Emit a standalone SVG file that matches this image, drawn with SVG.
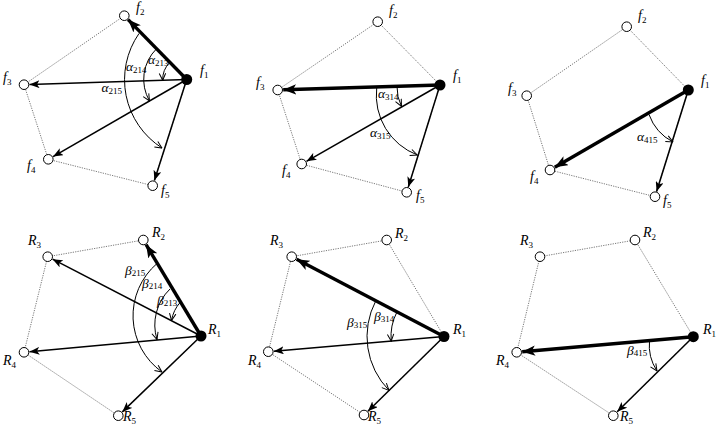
<svg xmlns="http://www.w3.org/2000/svg" width="717" height="428" viewBox="0 0 717 428">
<defs>
<style>
.dot{stroke:#555;stroke-width:0.8;stroke-dasharray:1.2 1.2;fill:none}
.ed{stroke:#000;stroke-width:1.5;fill:none;marker-end:url(#ah)}
.edT{stroke:#000;stroke-width:3.4;fill:none;marker-end:url(#ahT)}
.arc{stroke:#000;stroke-width:1;fill:none;marker-end:url(#av)}
.n{fill:#fff;stroke:#000;stroke-width:1}
.c{fill:#000}
text{font-family:"Liberation Serif","Times New Roman",serif;fill:#000}
.lab{font-size:14px;font-style:italic}
.gl{font-size:13.5px;font-style:italic}
.sub{font-size:9px;font-style:normal}
</style>
<marker id="ah" markerUnits="userSpaceOnUse" viewBox="0 0 10 8" markerWidth="10" markerHeight="8" refX="10" refY="4" orient="auto"><path d="M0,0 L10,4 L0,8 L2.5,4 z" fill="#000"/></marker>
<marker id="ahT" markerUnits="userSpaceOnUse" viewBox="0 0 10 8" markerWidth="13" markerHeight="10.4" refX="10" refY="4" orient="auto"><path d="M0,0 L10,4 L0,8 L2.5,4 z" fill="#000"/></marker>
<marker id="av" markerUnits="userSpaceOnUse" viewBox="0 0 8 8" markerWidth="8" markerHeight="8" refX="7.5" refY="4" orient="auto"><path d="M0.5,0.8 L7.5,4 L0.5,7.2" fill="none" stroke="#000" stroke-width="1"/></marker>
</defs>
<rect width="717" height="428" fill="#fff"/>

<g id="connectors">
<!-- panel 1 -->
<path class="dot" d="M186.7,79.5 L124.3,15.7 L24,84.7 L48.3,159.3 L152.7,185.7 Z"/>
<line class="edT" x1="186.7" y1="79.5" x2="128.1" y2="19.6"/>
<line class="ed" x1="186.7" y1="79.5" x2="29.5" y2="84.5"/>
<line class="ed" x1="186.7" y1="79.5" x2="53.1" y2="156.6"/>
<line class="ed" x1="186.7" y1="79.5" x2="154.4" y2="180.5"/>
<path class="arc" d="M169.9,62.3 A24,24 0 0 0 162.7,80.3"/>
<path class="arc" d="M156.6,48.7 A43,43 0 0 0 149.5,101"/>
<path class="arc" d="M139,33.5 A81,81 0 0 0 162,148"/>
<!-- panel 2 -->
<path class="dot" d="M440,85 L377.7,21.7 L277.7,90 L301.7,164 L406.7,192.3 Z"/>
<line class="edT" x1="440" y1="85" x2="283.2" y2="89.8"/>
<line class="ed" x1="440" y1="85" x2="306.5" y2="161.3"/>
<line class="ed" x1="440" y1="85" x2="408.3" y2="187"/>
<path class="arc" d="M397,86.3 A43,43 0 0 0 401.5,106.5"/>
<path class="arc" d="M376.7,88 A64,64 0 0 0 417.3,155"/>
<!-- panel 3 -->
<path class="dot" d="M688.3,90 L626.7,26.7 L526.7,95.7 L550,170 L655,196.7 Z"/>
<line class="edT" x1="688.3" y1="90" x2="554.8" y2="167.2"/>
<line class="ed" x1="688.3" y1="90" x2="656.6" y2="191.5"/>
<path class="arc" d="M649,114.5 A50,50 0 0 0 673,142"/>
<!-- panel 4 -->
<path class="dot" d="M201,336 L143.3,240 L47.7,256.7 L24,352.3 L118.3,415.7 Z"/>
<line class="edT" x1="201" y1="336" x2="146.1" y2="244.7"/>
<line class="ed" x1="201" y1="336" x2="52.6" y2="259.2"/>
<line class="ed" x1="201" y1="336" x2="29.5" y2="351.8"/>
<line class="ed" x1="201" y1="336" x2="122.3" y2="411.9"/>
<path class="arc" d="M180.5,302 A37,37 0 0 0 171.5,320.5"/>
<path class="arc" d="M170,289 A50,50 0 0 0 157,339.5"/>
<path class="arc" d="M157,263.5 A69,69 0 0 0 162,372"/>
<!-- panel 5 -->
<path class="dot" d="M444,336.5 L386.7,240 L291.7,256.7 L268.3,351.7 L364,415 Z"/>
<line class="edT" x1="444" y1="336.5" x2="296.6" y2="259.3"/>
<line class="ed" x1="444" y1="336.5" x2="273.8" y2="351.2"/>
<line class="ed" x1="444" y1="336.5" x2="367.9" y2="411.2"/>
<path class="arc" d="M397,311.9 A53,53 0 0 0 391.2,341.1"/>
<path class="arc" d="M375.8,300.8 A77,77 0 0 0 389,390.4"/>
<!-- panel 6 -->
<path class="dot" d="M693.3,336.7 L635,240 L540,256.7 L516.7,352.3 L613.3,415.7 Z"/>
<line class="edT" x1="693.3" y1="336.7" x2="522.2" y2="351.8"/>
<line class="ed" x1="693.3" y1="336.7" x2="617.2" y2="411.8"/>
<path class="arc" d="M649.5,340.5 A47,47 0 0 0 657,371"/>
</g>

<g id="p1-nodes">
<g id="p1-f1"><circle class="c" cx="186.7" cy="79.5" r="5.5"/><text class="lab" x="200" y="75">f<tspan class="sub" dy="3">1</tspan></text></g>
<g id="p1-f2"><circle class="n" cx="124.3" cy="15.7" r="4.8"/><text class="lab" x="136" y="12">f<tspan class="sub" dy="3">2</tspan></text></g>
<g id="p1-f3"><circle class="n" cx="24" cy="84.7" r="4.8"/><text class="lab" x="3" y="82">f<tspan class="sub" dy="3">3</tspan></text></g>
<g id="p1-f4"><circle class="n" cx="48.3" cy="159.3" r="4.8"/><text class="lab" x="27" y="170">f<tspan class="sub" dy="3">4</tspan></text></g>
<g id="p1-f5"><circle class="n" cx="152.7" cy="185.7" r="4.8"/><text class="lab" x="161" y="195">f<tspan class="sub" dy="3">5</tspan></text></g>
</g>
<g id="p2-nodes">
<g id="p2-f1"><circle class="c" cx="440" cy="85" r="5.5"/><text class="lab" x="453" y="80">f<tspan class="sub" dy="3">1</tspan></text></g>
<g id="p2-f2"><circle class="n" cx="377.7" cy="21.7" r="4.8"/><text class="lab" x="389" y="15">f<tspan class="sub" dy="3">2</tspan></text></g>
<g id="p2-f3"><circle class="n" cx="277.7" cy="90" r="4.8"/><text class="lab" x="256" y="87">f<tspan class="sub" dy="3">3</tspan></text></g>
<g id="p2-f4"><circle class="n" cx="301.7" cy="164" r="4.8"/><text class="lab" x="282" y="175">f<tspan class="sub" dy="3">4</tspan></text></g>
<g id="p2-f5"><circle class="n" cx="406.7" cy="192.3" r="4.8"/><text class="lab" x="416" y="200">f<tspan class="sub" dy="3">5</tspan></text></g>
</g>
<g id="p3-nodes">
<g id="p3-f1"><circle class="c" cx="688.3" cy="90" r="5.5"/><text class="lab" x="701" y="85">f<tspan class="sub" dy="3">1</tspan></text></g>
<g id="p3-f2"><circle class="n" cx="626.7" cy="26.7" r="4.8"/><text class="lab" x="638" y="20">f<tspan class="sub" dy="3">2</tspan></text></g>
<g id="p3-f3"><circle class="n" cx="526.7" cy="95.7" r="4.8"/><text class="lab" x="508" y="93">f<tspan class="sub" dy="3">3</tspan></text></g>
<g id="p3-f4"><circle class="n" cx="550" cy="170" r="4.8"/><text class="lab" x="530" y="181">f<tspan class="sub" dy="3">4</tspan></text></g>
<g id="p3-f5"><circle class="n" cx="655" cy="196.7" r="4.8"/><text class="lab" x="663" y="205">f<tspan class="sub" dy="3">5</tspan></text></g>
</g>
<g id="p4-nodes">
<g id="p4-R1"><circle class="c" cx="201" cy="336" r="5.5"/><text class="lab" x="208" y="334">R<tspan class="sub" dy="3">1</tspan></text></g>
<g id="p4-R2"><circle class="n" cx="143.3" cy="240" r="4.8"/><text class="lab" x="152" y="237">R<tspan class="sub" dy="3">2</tspan></text></g>
<g id="p4-R3"><circle class="n" cx="47.7" cy="256.7" r="4.8"/><text class="lab" x="28" y="245">R<tspan class="sub" dy="3">3</tspan></text></g>
<g id="p4-R4"><circle class="n" cx="24" cy="352.3" r="4.8"/><text class="lab" x="3" y="365">R<tspan class="sub" dy="3">4</tspan></text></g>
<g id="p4-R5"><circle class="n" cx="118.3" cy="415.7" r="4.8"/><text class="lab" x="123" y="421">R<tspan class="sub" dy="3">5</tspan></text></g>
</g>
<g id="p5-nodes">
<g id="p5-R1"><circle class="c" cx="444" cy="336.5" r="5.5"/><text class="lab" x="453" y="334">R<tspan class="sub" dy="3">1</tspan></text></g>
<g id="p5-R2"><circle class="n" cx="386.7" cy="240" r="4.8"/><text class="lab" x="395" y="238">R<tspan class="sub" dy="3">2</tspan></text></g>
<g id="p5-R3"><circle class="n" cx="291.7" cy="256.7" r="4.8"/><text class="lab" x="270" y="245">R<tspan class="sub" dy="3">3</tspan></text></g>
<g id="p5-R4"><circle class="n" cx="268.3" cy="351.7" r="4.8"/><text class="lab" x="248" y="365">R<tspan class="sub" dy="3">4</tspan></text></g>
<g id="p5-R5"><circle class="n" cx="364" cy="415" r="4.8"/><text class="lab" x="368" y="421">R<tspan class="sub" dy="3">5</tspan></text></g>
</g>
<g id="p6-nodes">
<g id="p6-R1"><circle class="c" cx="693.3" cy="336.7" r="5.5"/><text class="lab" x="703" y="334">R<tspan class="sub" dy="3">1</tspan></text></g>
<g id="p6-R2"><circle class="n" cx="635" cy="240" r="4.8"/><text class="lab" x="643" y="237">R<tspan class="sub" dy="3">2</tspan></text></g>
<g id="p6-R3"><circle class="n" cx="540" cy="256.7" r="4.8"/><text class="lab" x="520" y="245">R<tspan class="sub" dy="3">3</tspan></text></g>
<g id="p6-R4"><circle class="n" cx="516.7" cy="352.3" r="4.8"/><text class="lab" x="496" y="365">R<tspan class="sub" dy="3">4</tspan></text></g>
<g id="p6-R5"><circle class="n" cx="613.3" cy="415.7" r="4.8"/><text class="lab" x="620" y="421">R<tspan class="sub" dy="3">5</tspan></text></g>
</g>

<g id="angle-labels">
<text class="gl" x="148" y="64">α<tspan class="sub" dy="2">213</tspan></text>
<text class="gl" x="126" y="71">α<tspan class="sub" dy="2">214</tspan></text>
<text class="gl" x="101.5" y="92">α<tspan class="sub" dy="2">215</tspan></text>
<text class="gl" x="378" y="98">α<tspan class="sub" dy="2">314</tspan></text>
<text class="gl" x="370" y="137">α<tspan class="sub" dy="2">315</tspan></text>
<text class="gl" x="637" y="141">α<tspan class="sub" dy="2">415</tspan></text>
<text class="gl" x="125" y="275">β<tspan class="sub" dy="1">215</tspan></text>
<text class="gl" x="142" y="288">β<tspan class="sub" dy="1">214</tspan></text>
<text class="gl" x="157" y="305">β<tspan class="sub" dy="1">213</tspan></text>
<text class="gl" x="374" y="321">β<tspan class="sub" dy="1">314</tspan></text>
<text class="gl" x="347" y="327">β<tspan class="sub" dy="1">315</tspan></text>
<text class="gl" x="627" y="355">β<tspan class="sub" dy="1">415</tspan></text>
</g>
</svg>
